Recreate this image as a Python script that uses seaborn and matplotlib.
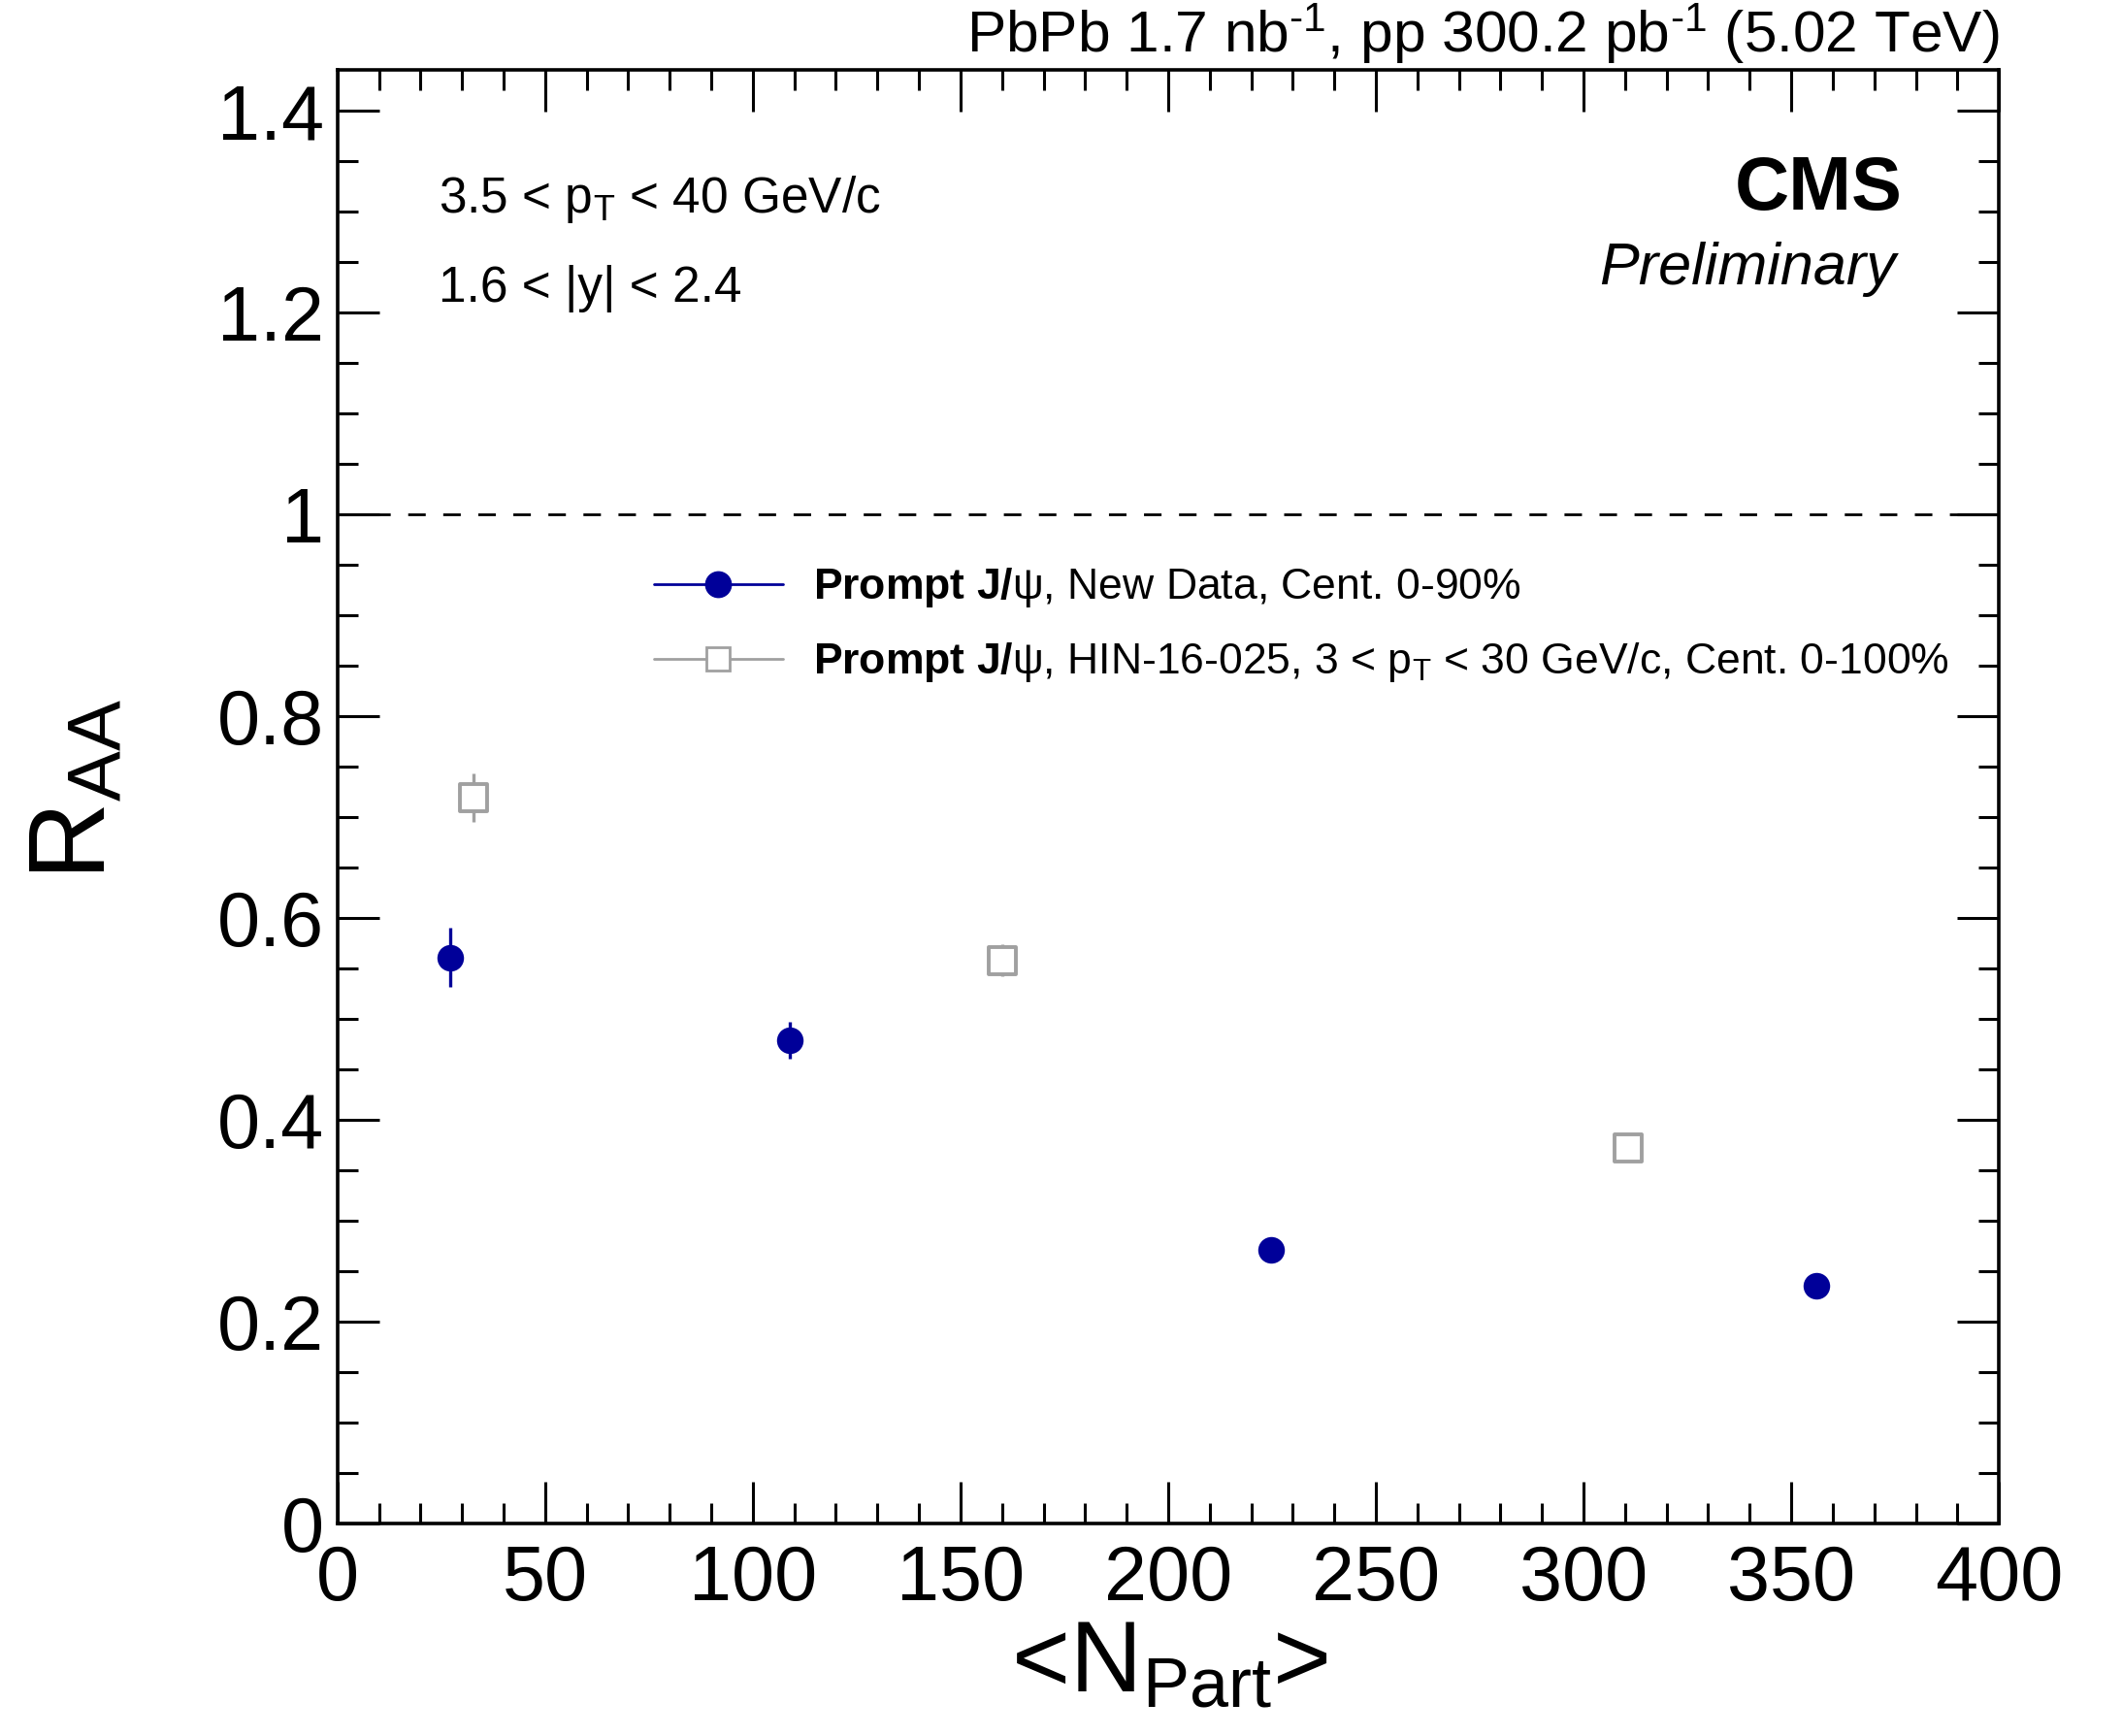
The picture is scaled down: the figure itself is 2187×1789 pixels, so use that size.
import numpy as np
import pandas as pd
import matplotlib
matplotlib.use("Agg")
import matplotlib.pyplot as plt
from matplotlib.lines import Line2D
from matplotlib.ticker import MultipleLocator, FixedLocator
import seaborn as sns

# ---- data ----
new_npart = [27.1, 109.0, 224.8, 356.1]
new_raa = [0.561, 0.479, 0.271, 0.236]
new_err = [0.029, 0.018, 0.006, 0.005]

old_npart = [32.7, 160.1, 310.8]
old_raa = [0.719, 0.558, 0.372]
old_err = [0.024, 0.016, 0.006]

new_label = r"$\mathbf{Prompt\ J/}$ψ, New Data, Cent. 0-90%"
old_label = r"$\mathbf{Prompt\ J/}$ψ, HIN-16-025, 3 < p$_{\mathregular{T}}$ < 30 GeV/c, Cent. 0-100%"

x_ticks = [0, 50, 100, 150, 200, 250, 300, 350, 400]
y_ticks = [0, 0.2, 0.4, 0.6, 0.8, 1.0, 1.2, 1.4]
y_tick_labels = ["0", "0.2", "0.4", "0.6", "0.8", "1", "1.2", "1.4"]

BLUE = "#000099"
GRAY = "#a0a0a0"

sns.set_theme(style="ticks")
plt.rcParams["font.family"] = ["Liberation Sans", "DejaVu Sans"]
plt.rcParams["mathtext.fontset"] = "custom"
plt.rcParams["mathtext.rm"] = "Liberation Sans"
plt.rcParams["mathtext.it"] = "Liberation Sans:italic"
plt.rcParams["mathtext.bf"] = "Liberation Sans:bold"
for key in ["text.color", "axes.labelcolor", "xtick.color", "ytick.color",
            "axes.edgecolor"]:
    plt.rcParams[key] = "black"

fig = plt.figure(figsize=(21.87, 17.89), dpi=100)
ax = fig.add_axes([0.159, 0.1224, 0.783, 0.8371])

df_new = pd.DataFrame({"npart": new_npart, "raa": new_raa})
df_old = pd.DataFrame({"npart": old_npart, "raa": old_raa})

ax.errorbar(old_npart, old_raa, yerr=old_err, fmt="none", ecolor=GRAY,
            elinewidth=2.4, capsize=0, zorder=2)
ax.errorbar(new_npart, new_raa, yerr=new_err, fmt="none", ecolor=BLUE,
            elinewidth=2.4, capsize=0, zorder=2)
sns.scatterplot(data=df_old, x="npart", y="raa", ax=ax, marker="s", s=380,
                facecolor="white", edgecolor=GRAY, linewidth=2.8, zorder=3)
sns.scatterplot(data=df_new, x="npart", y="raa", ax=ax, marker="o", s=390,
                color=BLUE, edgecolor=BLUE, linewidth=0, zorder=4)

ax.axhline(1.0, color="black", linestyle=(0, (6.5, 6.5)), linewidth=2.0, zorder=1)

ax.set_xlim(0, 400)
ax.set_ylim(0, 1.44)
ax.set_xlabel("")
ax.set_ylabel("")
ax.xaxis.set_major_locator(FixedLocator(x_ticks))
ax.xaxis.set_minor_locator(MultipleLocator(10))
ax.yaxis.set_major_locator(FixedLocator(y_ticks))
ax.yaxis.set_minor_locator(MultipleLocator(0.05))
ax.set_xticklabels([str(v) for v in x_ticks])
ax.set_yticklabels(y_tick_labels)
ax.tick_params(which="both", direction="in", top=True, right=True,
               width=2.2, color="black", labelcolor="black")
ax.tick_params(which="major", length=31, labelsize=57)
ax.tick_params(which="minor", length=15)
ax.tick_params(axis="x", which="major", pad=15)
ax.tick_params(axis="y", which="major", pad=10)
for sp in ax.spines.values():
    sp.set_linewidth(2.6)
    sp.set_color("black")
    sp.set_visible(True)

# axis titles
fig.text(0.036, 0.545, r"R$_{\mathregular{AA}}$", rotation=90, fontsize=80,
         ha="center", va="center")
fig.text(0.551, 0.0255, r"<N$_{\mathregular{Part}}$>", fontsize=74,
         ha="center", va="baseline")

# top-right luminosity text
ax.text(1.0, 1.003, r"PbPb 1.7 nb$^{\mathregular{\text{-1}}}$, pp 300.2 pb$^{\mathregular{\text{-1}}}$ (5.02 TeV)",
        transform=ax.transAxes, ha="right", va="bottom", fontsize=43.5)

ax.text(0.061, 0.902, r"3.5 < p$_{\mathregular{T}}$ < 40 GeV/c", transform=ax.transAxes,
        ha="left", va="baseline", fontsize=37)
ax.text(0.061, 0.841, "1.6 < |y| < 2.4", transform=ax.transAxes,
        ha="left", va="baseline", fontsize=37)
ax.text(0.9416, 0.904, "CMS", transform=ax.transAxes, ha="right",
        va="baseline", fontsize=56, fontweight="bold")
ax.text(0.938, 0.8525, "Preliminary", transform=ax.transAxes, ha="right",
        va="baseline", fontsize=44, fontstyle="italic")

handles = [
    Line2D([0], [0], color=BLUE, lw=2, marker="o", markersize=19,
           markerfacecolor=BLUE, markeredgecolor=BLUE),
    Line2D([0], [0], color=GRAY, lw=2, marker="s", markersize=17,
           markerfacecolor="white", markeredgecolor=GRAY, markeredgewidth=2),
]
leg = ax.legend(handles, [new_label, old_label], loc="upper left",
                bbox_to_anchor=(0.1904, 0.659), frameon=False, fontsize=32,
                handlelength=3.0, handletextpad=0.7, labelspacing=0.72,
                borderpad=0, borderaxespad=0)

fig.savefig("out.png", dpi=100)
